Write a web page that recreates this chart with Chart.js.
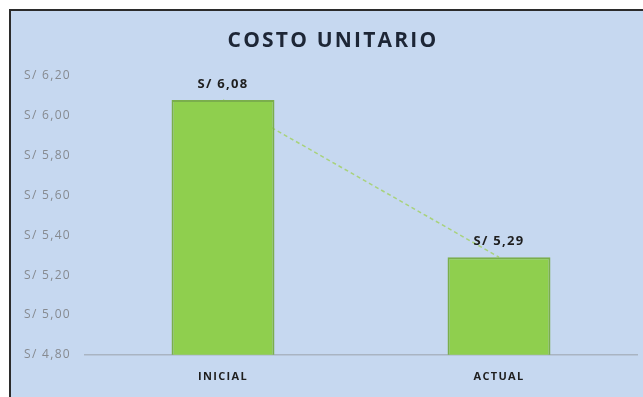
<!DOCTYPE html>
<html>
<head>
<meta charset="utf-8">
<script src="https://cdn.jsdelivr.net/npm/chart.js@4/dist/chart.umd.min.js"></script>
<style>
  body { margin: 0; background: #ffffff; overflow: hidden; }
  .frame {
    position: absolute; left: 9px; top: 9px;
    width: 640px; height: 395px;
    border-left: 2px solid #2b2b2b; border-top: 2px solid #2b2b2b;
    background: #c6d8f0;
  }
</style>
</head>
<body>
<div class="frame"><canvas id="myChart" width="634" height="388"></canvas></div>
<script>
const chartTitle = 'COSTO UNITARIO';
const categories = ['INICIAL', 'ACTUAL'];
const costValues = [6.08, 5.29];
const yTicks = { min: 4.8, max: 6.2, step: 0.2 };

function soles(v) {
    return 'S/ ' + Number(v).toFixed(2).replace('.', ',');
}

// the original text is set wide, so add a bit of letter spacing everywhere
const spacing = {
    id: 'spacing',
    beforeDraw(chart) {
        chart.ctx.letterSpacing = '1.3px';
    },
    afterDraw(chart) {
        const ctx = chart.ctx;
        ctx.save();
        ctx.letterSpacing = '2.2px';
        ctx.font = 'bold 21px "Open Sans", sans-serif';
        ctx.fillStyle = '#1d2636';
        ctx.textAlign = 'center';
        ctx.textBaseline = 'middle';
        ctx.fillText(chartTitle, chart.width / 2 + 5, 30);
        ctx.restore();
    }
};

// draws the value above each bar
const barLabels = {
    id: 'barLabels',
    afterDatasetsDraw(chart) {
        const ctx = chart.ctx;
        const meta = chart.getDatasetMeta(0);
        ctx.save();
        ctx.font = 'bold 13px "Open Sans", sans-serif';
        ctx.fillStyle = '#1e1e1e';
        ctx.textAlign = 'center';
        ctx.textBaseline = 'bottom';
        meta.data.forEach((bar, i) => {
            ctx.fillText(soles(costValues[i]), bar.x, bar.y - 9);
        });
        ctx.restore();
    }
};

const ctx = document.getElementById('myChart').getContext('2d');

new Chart(ctx, {
    type: 'bar',
    data: {
        labels: categories,
        datasets: [
            {
                label: 'Costo unitario',
                data: costValues,
                backgroundColor: '#8fcf4e',
                borderColor: '#7aae4c',
                borderWidth: 2,
                categoryPercentage: 1,
                barPercentage: 0.373,
                order: 0,
            },
            {
                label: 'Tendencia',
                type: 'line',
                data: costValues,
                borderColor: '#a8d27c',
                borderWidth: 1.5,
                borderDash: [4, 3],
                pointRadius: 0,
                fill: false,
                order: 1,
            },
        ],
    },
    options: {
        responsive: false,
        animation: false,
        layout: { padding: { left: 0, right: 8, top: 65, bottom: 1 } },
        plugins: {
            legend: { display: false },
            tooltip: { enabled: false },
            title: { display: false },
        },
        scales: {
            x: {
                grid: { display: false, drawTicks: false },
                border: { display: true, color: '#a9b4c2', width: 1.5 },
                ticks: {
                    color: '#1e1e1e',
                    padding: 15,
                    font: { family: '"Open Sans", sans-serif', size: 11, weight: 'bold' },
                },
            },
            y: {
                min: yTicks.min,
                max: yTicks.max,
                afterFit(scale) { scale.width = 74; },
                grid: { display: false, drawTicks: false },
                border: { display: false },
                ticks: {
                    stepSize: yTicks.step,
                    padding: 14,
                    color: '#868a90',
                    font: { family: '"Open Sans", sans-serif', size: 12 },
                    callback: v => soles(v),
                },
            },
        },
    },
    plugins: [spacing, barLabels],
});
</script>
</body>
</html>
